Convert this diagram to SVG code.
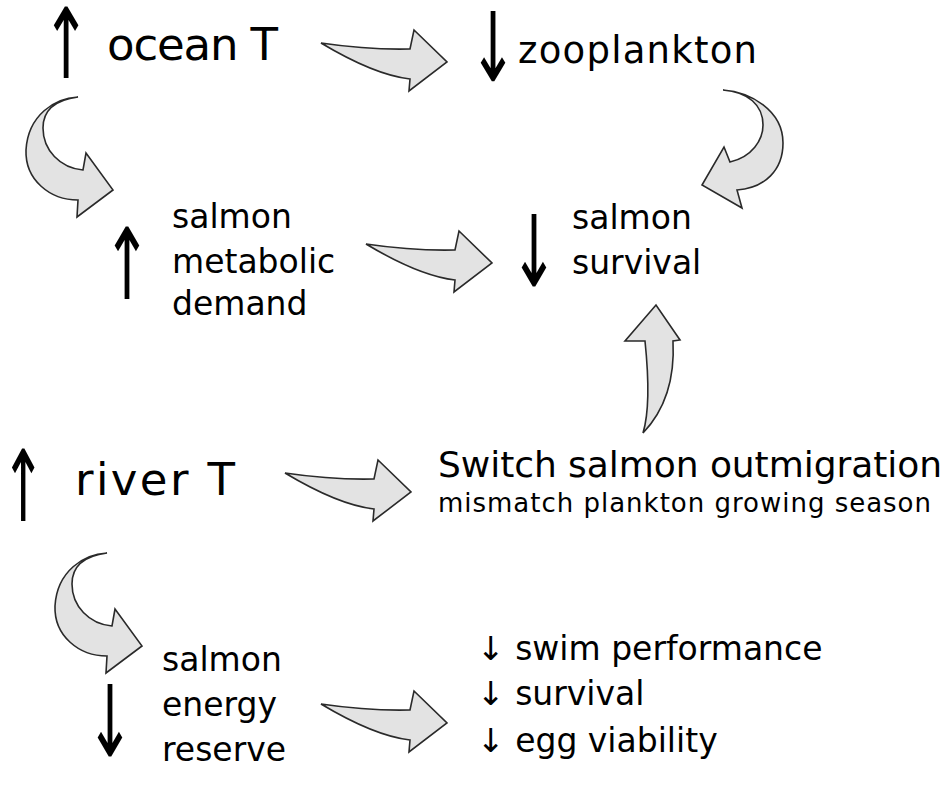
<svg xmlns="http://www.w3.org/2000/svg" xmlns:xlink="http://www.w3.org/1999/xlink" width="949" height="785" viewBox="0 0 949 785">
<style>
.t{font-family:"DejaVu Sans",sans-serif;fill:#000}
.big{font-size:45px}
.mid{font-size:33px}
.sm{font-size:26px}
.ar{font-family:"DejaVu Sans",sans-serif;font-size:80px;fill:#000;text-anchor:middle}
.ca{fill:#e3e3e3;stroke:#2a2a2a;stroke-width:1.6;stroke-linejoin:miter}
</style>
<defs>
<path id="straight" d="M0,0 Q47.5,7 89,6 L93,-13 L126,19 L88,48 L89,36 Q53.5,32 0,0 Z"/>
<path id="hook" d="M78,97 C55,98 28,115 26,150 C25,180 50,200 78,200 L77,217 L113,190 L86,153 L83,170 C60,168 43,150 43,128 C43,110 55,100 78,97 Z"/>
</defs>
<g id="connectors">
<use xlink:href="#straight" class="ca" x="321" y="43"/>
<use xlink:href="#hook" class="ca"/>
<path class="ca" d="M723,90 C750,92 783,110 783,143 C783,170 765,188 737,190 L742,208 L702,185 L724,147 L730,162 C752,157 763,140 763,125 C763,105 748,92 723,90 Z"/>
<use xlink:href="#straight" class="ca" x="366" y="244"/>
<path class="ca" d="M643,433 C650,410 648,370 645,341 L625,341 L656,305 L680,340 L673,341 C675,380 665,410 643,433 Z"/>
<use xlink:href="#straight" class="ca" x="285" y="473"/>
<use xlink:href="#hook" class="ca" x="29" y="456"/>
<use xlink:href="#straight" class="ca" x="321" y="704"/>
</g>
<g id="ocean">
<text class="ar" transform="translate(66,78) scale(0.72,1.22)">↑</text>
<text class="t big" x="107" y="60" textLength="171">ocean T</text>
</g>
<g id="zooplankton">
<text class="ar" transform="translate(493,81) scale(0.72,1.2)">↓</text>
<text class="t mid" x="518" y="63" textLength="239" style="font-size:37px">zooplankton</text>
</g>
<g id="metabolic">
<text class="ar" transform="translate(127,299) scale(0.72,1.24)">↑</text>
<text class="t mid" x="172" y="228">salmon</text>
<text class="t mid" x="172" y="273">metabolic</text>
<text class="t mid" x="172" y="315">demand</text>
</g>
<g id="survival">
<text class="ar" transform="translate(534,286) scale(0.72,1.24)">↓</text>
<text class="t mid" x="572" y="229">salmon</text>
<text class="t mid" x="572" y="274">survival</text>
</g>
<g id="river">
<text class="ar" transform="translate(23,521) scale(0.66,1.24)">↑</text>
<text class="t big" x="75" y="495" textLength="160">river T</text>
</g>
<g id="outmigration">
<text class="t mid" x="438" y="477" style="font-size:36px" textLength="504">Switch salmon outmigration</text>
<text class="t sm" x="438" y="512" textLength="493">mismatch plankton growing season</text>
</g>
<g id="energy">
<text class="ar" transform="translate(110,756) scale(0.72,1.24)">↓</text>
<text class="t mid" x="162" y="671">salmon</text>
<text class="t mid" x="162" y="716">energy</text>
<text class="t mid" x="162" y="761">reserve</text>
</g>
<g id="effects">
<text class="t mid" x="477" y="660">↓ swim performance</text>
<text class="t mid" x="477" y="705">↓ survival</text>
<text class="t mid" x="477" y="752">↓ egg viability</text>
</g>
</svg>
